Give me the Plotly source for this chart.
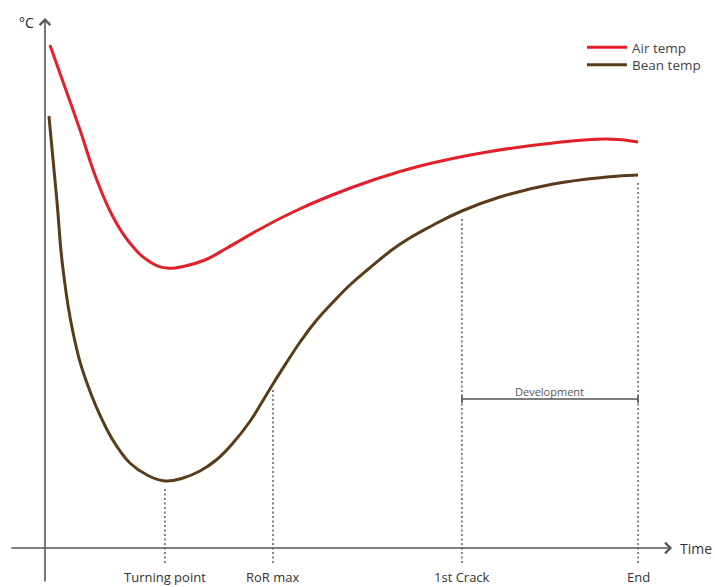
import numpy as np
import plotly.graph_objects as go

# ---- data (time in minutes, temperature in °C) ----
air_time = [0.10, 0.41, 0.71, 1.05, 1.38, 1.72, 2.13, 2.47, 2.84, 3.24, 3.69, 4.36,
            5.03, 5.72, 6.65, 7.60, 8.96, 10.30, 11.39, 12.02]
air_temp = [251.5, 230, 209, 184, 165.5, 152.5, 143, 140, 141, 144, 150, 159.5,
            168, 175.5, 184, 191, 198, 202.5, 204.5, 203]

bean_time = [0.08, 0.24, 0.36, 0.57, 0.85, 1.26, 1.48, 1.72, 2.07, 2.43, 2.80, 3.14,
             3.47, 3.81, 4.16, 4.40, 4.62, 4.89, 5.17, 5.49, 5.84, 6.18, 6.53, 7.20,
             7.87, 8.45, 9.22, 10.30, 11.39, 12.02]
bean_temp = [216, 174, 140.5, 107.5, 82.5, 59, 50, 42.5, 36.5, 33.5, 35, 38.5,
             44, 52.5, 63.5, 73, 82, 92.5, 103, 113.5, 123, 131.5, 139, 152,
             161.5, 168.5, 175.5, 182, 185.5, 186.5]

event_names = ["Turning point", "RoR max", "1st Crack", "End"]
event_times = [2.43, 4.62, 8.45, 12.02]

development_label = "Development"
development_level = 74.5   # °C height of the development bracket

# ---- view / styling ----
X_RANGE = [-0.912, 13.58]
Y_RANGE = [-19.5, 274.0]
AXIS_COLOR = "#585858"
AIR_COLOR = "#e3202a"
BEAN_COLOR = "#5a3c1a"
FONT = "Open Sans, Lato, sans-serif"

fig = go.Figure()

fig.add_trace(go.Scatter(x=air_time, y=air_temp, mode="lines", name="Air temp",
                         line=dict(color=AIR_COLOR, width=3, shape="spline", smoothing=1.3),
                         hoverinfo="skip", legend="legend"))
fig.add_trace(go.Scatter(x=bean_time, y=bean_temp, mode="lines", name="Bean temp",
                         line=dict(color=BEAN_COLOR, width=3, shape="spline", smoothing=1.3),
                         hoverinfo="skip", legend="legend2"))

# dotted event drop lines and labels
event_bean = np.interp(event_times, bean_time, bean_temp)
for name, t, b in zip(event_names, event_times, event_bean):
    fig.add_shape(type="line", x0=t, x1=t, y0=-7.5, y1=b - 3,
                  line=dict(color="#666666", width=1.6, dash="2px,2.5px"), layer="below")
    fig.add_annotation(x=t, y=-14.5, text=name, showarrow=False,
                       font=dict(family=FONT, size=13, color="#333333"),
                       xanchor="center", yanchor="middle")

# axes drawn as arrows
fig.add_annotation(x=0, y=265, ax=0, ay=-17.5, xref="x", yref="y", axref="x", ayref="y",
                   text="", showarrow=True, arrowhead=4, arrowsize=1.3, arrowwidth=1.6,
                   arrowcolor=AXIS_COLOR)
fig.add_annotation(x=12.71, y=0, ax=-0.71, ay=0, xref="x", yref="y", axref="x", ayref="y",
                   text="", showarrow=True, arrowhead=4, arrowsize=1.3, arrowwidth=1.6,
                   arrowcolor=AXIS_COLOR)
fig.add_annotation(x=-0.385, y=263, text="°C", showarrow=False,
                   font=dict(family=FONT, size=14, color="#222222"),
                   xanchor="center", yanchor="middle")
fig.add_annotation(x=12.83, y=0, text="Time", showarrow=False,
                   font=dict(family=FONT, size=14, color="#333333"),
                   xanchor="left", yanchor="middle")

# development bracket
t1, t2 = event_times[2], event_times[3]
fig.add_shape(type="line", x0=t1, x1=t2, y0=development_level, y1=development_level,
              line=dict(color="#555555", width=1.6))
for t in (t1, t2):
    fig.add_shape(type="line", x0=t, x1=t, y0=development_level - 2, y1=development_level + 2,
                  line=dict(color="#555555", width=1.6))
fig.add_annotation(x=(t1 + t2) / 2, y=development_level + 4, text=development_label,
                   showarrow=False, font=dict(family=FONT, size=11, color="#555555"),
                   xanchor="center", yanchor="middle")

legend_style = dict(xanchor="left", yanchor="middle", bgcolor="rgba(0,0,0,0)",
                    borderwidth=0, itemwidth=40,
                    font=dict(family=FONT, size=13.5, color="#444444"))

fig.update_layout(
    width=715, height=587,
    margin=dict(l=0, r=0, t=0, b=0),
    paper_bgcolor="white", plot_bgcolor="white",
    xaxis=dict(range=X_RANGE, visible=False, fixedrange=True),
    yaxis=dict(range=Y_RANGE, visible=False, fixedrange=True),
    showlegend=True,
    legend=dict(x=0.814, y=1 - 47.5 / 587, **legend_style),
    legend2=dict(x=0.814, y=1 - 65 / 587, **legend_style),
)

fig.write_html("out.html", config={"displayModeBar": False},
               post_script="document.body.style.margin='0';document.body.style.padding='0';")
